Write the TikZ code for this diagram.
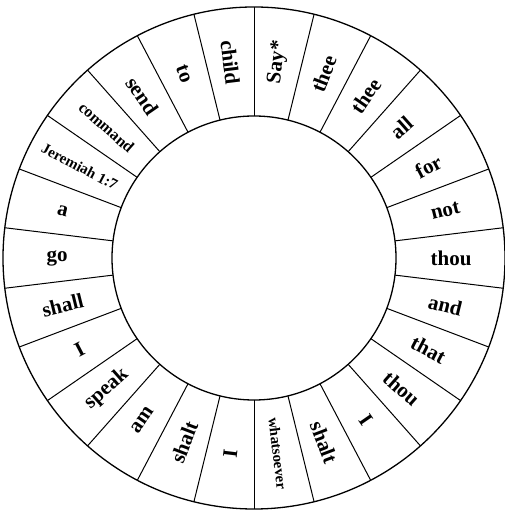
\documentclass[tikz,border=0pt]{standalone}
\usepackage{fontspec}
\setmainfont{Liberation Serif}
\begin{document}
\begin{tikzpicture}[x=1pt,y=1pt,
	word/.style={font=\bfseries\fontsize{21}{21}\selectfont,inner sep=0pt},
	smallword/.style={font=\bfseries\fontsize{15}{15}\selectfont,inner sep=0pt},
	midword/.style={font=\bfseries\fontsize{16}{16}\selectfont,inner sep=0pt}]
	\useasboundingbox (0,0) rectangle (505,516);
	\begin{scope}[shift={(254,258)}]
		\draw[line width=1.3pt] (0,0) circle (251);
		\draw[line width=1.3pt] (0,0) circle (142);
		\foreach \k in {0,...,25}
			\draw[line width=1pt] ({90-\k*360/26}:142)--({90-\k*360/26}:251);
		\foreach \w/\s [count=\i from 0] in {Say*/word,thee/word,thee/word,all/word,for/word,not/word,thou/word,and/word,that/word,thou/word,I/word,shalt/word,whatsoever/smallword,I/word,shalt/word,am/word,speak/word,I/word,shall/word,go/word,a/word,Jeremiah 1:7/smallword,command/midword,send/word,to/word,child/word}
		{
			\pgfmathsetmacro\a{90-(\i+0.5)*360/26}
			\pgfmathsetmacro\r{\i<13 ? \a : \a+180}
			\node[\s,rotate=\r] (w\i) at (\a:197) {\w};
		}
	\end{scope}
\end{tikzpicture}
\end{document}
